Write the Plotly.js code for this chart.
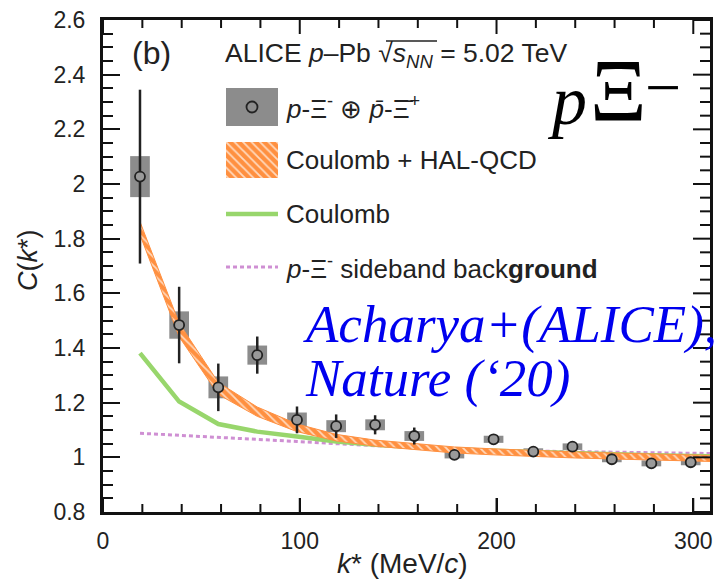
<!DOCTYPE html>
<html>
<head>
<meta charset="utf-8">
<script src="https://cdn.plot.ly/plotly-3.0.1.min.js"></script>
<style>html,body{margin:0;padding:0;background:#fff;}#plot{width:714px;height:580px;}</style>
</head>
<body>
<div id="plot"></div>
<script>
// ---- data ----
const kData   = [18.8, 38.7, 58.6, 78.4, 98.6, 118.5, 138.3, 158.2, 178.6, 198.5, 218.7, 238.6, 258.6, 278.7, 298.7];
const cData   = [2.027, 1.484, 1.256, 1.374, 1.137, 1.114, 1.119, 1.078, 1.009, 1.066, 1.021, 1.039, 0.993, 0.978, 0.982];
const statErr = [0.318, 0.140, 0.087, 0.068, 0.049, 0.043, 0.035, 0.031, 0.016, 0.015, 0.014, 0.015, 0.014, 0.013, 0.013];
const sysErr  = [0.075, 0.050, 0.040, 0.035, 0.027, 0.022, 0.020, 0.018, 0.013, 0.013, 0.012, 0.012, 0.011, 0.011, 0.011];

const kModel      = [18.8, 38.7, 58.6, 78.4, 98.6, 118.5, 138.3, 158.2, 178.6, 198.5, 218.7, 238.6, 258.6, 278.7, 298.7, 308.5];
const coulHal     = [1.838, 1.466, 1.252, 1.167, 1.108, 1.072, 1.052, 1.040, 1.027, 1.020, 1.014, 1.009, 1.005, 1.001, 0.998, 0.996];
const coulHalHalf = [0.024, 0.025, 0.022, 0.017, 0.014, 0.012, 0.011, 0.011, 0.011, 0.011, 0.011, 0.011, 0.011, 0.011, 0.011, 0.011];
const coulomb     = [1.381, 1.204, 1.122, 1.094, 1.076, 1.058, 1.046, 1.036, 1.029, 1.024, 1.019, 1.015, 1.011, 1.008, 1.005, 1.004];
const sideband    = [1.088, 1.081, 1.073, 1.066, 1.058, 1.050, 1.043, 1.035, 1.028, 1.025, 1.023, 1.021, 1.019, 1.017, 1.015, 1.014];

const xTickVals = [0, 100, 200, 300];
const xTickText = ['0', '100', '200', '300'];
const yTickVals = [0.8, 1, 1.2, 1.4, 1.6, 1.8, 2, 2.2, 2.4, 2.6];
const yTickText = ['0.8', '1', '1.2', '1.4', '1.6', '1.8', '2', '2.2', '2.4', '2.6'];

const legendLabels = [
  '<i>p</i>-Ξ<sup>-</sup> ⊕ <i>p̄</i>-Ξ̄<sup>+</sup>',
  'Coulomb + HAL-QCD',
  'Coulomb',
  '<i>p</i>-Ξ<sup>-</sup> sideband back<b>ground</b>'
];

// ---- layout geometry (pixels) ----
const L = 103, R = 710, T = 20, B = 512;
const W = 714, H = 580;
const PW = R - L, PH = B - T;
const px = x => (x - L) / PW;
const py = y => (B - y) / PH;
const X_RANGE = [0, 308.5];
const Y_RANGE = [0.8, 2.6];
const X_MINOR = 20, Y_MINOR = 0.05;
const X_TICKLEN = 14, X_MINORLEN = 8, Y_TICKLEN = 17, Y_MINORLEN = 10;

const ORANGE = '#ff9040';
const GREEN = '#98d66c';
const PINK = '#cf8fd3';
const GRAY = '#8c8c8c';
const INK = '#111';
const SANS = 'Liberation Sans, Arial, sans-serif';
const SERIF = 'Liberation Serif, Times New Roman, serif';

const upper = coulHal.map((v, i) => v + coulHalHalf[i]);
const lower = coulHal.map((v, i) => v - coulHalHalf[i]);
const sysBase = cData.map((v, i) => v - sysErr[i]);
const sysLen = sysErr.map(s => 2 * s);

const hatch = {shape: '\\', bgcolor: ORANGE, fgcolor: '#ffd9bd', size: 6, solidity: 0.3, fillmode: 'replace'};

const traces = [
  {type: 'bar', x: kData, y: sysLen, base: sysBase, width: 10,
   marker: {color: GRAY, line: {width: 0}}, hoverinfo: 'skip', showlegend: false},
  {type: 'scatter', mode: 'lines', x: kModel, y: sideband,
   line: {color: PINK, width: 3, dash: '4px,3px'}, showlegend: false},
  {type: 'scatter', mode: 'lines', x: kModel, y: coulomb,
   line: {color: GREEN, width: 4.5}, showlegend: false},
  {type: 'scatter', mode: 'lines', x: kModel, y: lower,
   line: {color: ORANGE, width: 1}, showlegend: false},
  {type: 'scatter', mode: 'lines', x: kModel, y: upper, fill: 'tonexty',
   fillcolor: ORANGE, fillpattern: hatch,
   line: {color: ORANGE, width: 1}, showlegend: false},
  {type: 'scatter', mode: 'markers', x: kData, y: cData,
   error_y: {type: 'data', array: statErr, visible: true, thickness: 2.5, width: 0, color: '#222'},
   marker: {symbol: 'circle', size: 10, color: '#9a9a9a', line: {color: '#222', width: 1.8}},
   showlegend: false},
  // orange hatched legend swatch, drawn in its own small subplot
  {type: 'scatter', mode: 'lines', xaxis: 'x2', yaxis: 'y2',
   x: [0, 1, 1, 0, 0], y: [0, 0, 1, 1, 0], fill: 'toself',
   fillcolor: ORANGE, fillpattern: hatch, line: {width: 0, color: ORANGE}, showlegend: false, hoverinfo: 'skip'}
];

const tickFont = {family: SANS, size: 23, color: '#222'};

// ---- frame tick marks (bottom, top, right), placed through the axis scales ----
const tickShapes = [];
const eps = 1e-9;
for (let v = X_RANGE[0]; v <= X_RANGE[1] + eps; v += X_MINOR) {
  const vv = Math.round(v * 1000) / 1000;
  const len = (xTickVals.some(t => Math.abs(t - vv) < 1e-6) ? X_TICKLEN : X_MINORLEN) / PH;
  tickShapes.push({type: 'line', xref: 'x', yref: 'paper', layer: 'above',
    x0: vv, x1: vv, y0: 0, y1: len, line: {color: INK, width: 2}});
  tickShapes.push({type: 'line', xref: 'x', yref: 'paper', layer: 'above',
    x0: vv, x1: vv, y0: 1, y1: 1 - len, line: {color: INK, width: 2}});
}
for (let v = Y_RANGE[0]; v <= Y_RANGE[1] + eps; v += Y_MINOR) {
  const vv = Math.round(v * 1000) / 1000;
  const len = (yTickVals.some(t => Math.abs(t - vv) < 1e-6) ? Y_TICKLEN : Y_MINORLEN) / PW;
  tickShapes.push({type: 'line', xref: 'paper', yref: 'y', layer: 'above',
    x0: 1, x1: 1 - len, y0: vv, y1: vv, line: {color: INK, width: 2}});
}

const shapes = tickShapes.concat([
  {type: 'rect', xref: 'paper', yref: 'paper', x0: px(226), x1: px(278), y0: py(126), y1: py(88),
   fillcolor: GRAY, line: {width: 0}},
  {type: 'circle', xref: 'paper', yref: 'paper', x0: px(246.5), x1: px(257.5), y0: py(112.5), y1: py(101.5),
   fillcolor: GRAY, line: {color: '#222', width: 1.8}},
  {type: 'line', xref: 'paper', yref: 'paper', x0: px(226), x1: px(278), y0: py(214), y1: py(214),
   line: {color: GREEN, width: 4.5}},
  {type: 'line', xref: 'paper', yref: 'paper', x0: px(226), x1: px(278), y0: py(267), y1: py(267),
   line: {color: PINK, width: 3, dash: '4px,3px'}},
  // overline of the square root
  {type: 'line', xref: 'paper', yref: 'paper', x0: px(386), x1: px(437), y0: py(41), y1: py(41),
   line: {color: '#222', width: 1.5}}
]);

const ann = (x, y, text, size, opts) => Object.assign({
  xref: 'paper', yref: 'paper', x: px(x), y: py(y), text: text, showarrow: false,
  xanchor: 'left', yanchor: 'middle', font: {family: SANS, size: size, color: '#222'}
}, opts || {});

const annotations = [
  ann(130, 53, '(b)', 32),
  ann(223, 55, 'ALICE <i>p</i>–Pb √<i>s</i><sub><i>NN</i></sub> = 5.02 TeV', 26.5),
  ann(284, 107, legendLabels[0], 26),
  ann(284, 160, legendLabels[1], 26),
  ann(284, 214, legendLabels[2], 26),
  ann(284, 267, legendLabels[3], 26),
  ann(545, 100, '<i>p</i>', 70, {font: {family: SERIF, size: 70, color: '#000'}}),
  ann(588, 91, 'Ξ', 88, {font: {family: SERIF, size: 88, color: '#000'}}),
  ann(643, 87, '−', 64, {font: {family: SERIF, size: 64, color: '#000'}}),
  ann(301, 324, '<i>Acharya+(ALICE),</i>', 53, {font: {family: SERIF, size: 53, color: '#0000ee'}}),
  ann(303, 378, '<i>Nature (‘20)</i>', 53, {font: {family: SERIF, size: 53, color: '#0000ee'}}),
  // axis titles
  ann(402, 563, '<i>k</i>* (MeV/<i>c</i>)', 28, {xanchor: 'center'}),
  ann(28, 260, '<i>C</i>(<i>k</i>*)', 27, {xanchor: 'center', textangle: -90})
];

const layout = {
  width: W, height: H,
  margin: {l: L, r: W - R, t: T, b: H - B, pad: 0},
  paper_bgcolor: '#fff', plot_bgcolor: 'rgba(0,0,0,0)',
  showlegend: false,
  xaxis: {
    domain: [0, 1], anchor: 'y',
    range: X_RANGE, tickvals: xTickVals, ticktext: xTickText,
    ticks: 'inside', ticklen: X_TICKLEN, tickwidth: 2, tickcolor: INK,
    showline: true, linewidth: 3, linecolor: INK, mirror: true,
    showgrid: false, zeroline: false, fixedrange: true,
    tickfont: tickFont, ticklabelstandoff: 6
  },
  yaxis: {
    domain: [0, 1], anchor: 'x',
    range: Y_RANGE, tickvals: yTickVals, ticktext: yTickText,
    ticks: 'inside', ticklen: Y_TICKLEN, tickwidth: 2, tickcolor: INK,
    minor: {dtick: Y_MINOR, tick0: 0.8, ticks: 'inside', ticklen: Y_MINORLEN, tickwidth: 2, tickcolor: INK, showgrid: false},
    showline: true, linewidth: 3, linecolor: INK, mirror: true,
    showgrid: false, zeroline: false, fixedrange: true,
    tickfont: tickFont, ticklabelstandoff: 10
  },
  xaxis2: {domain: [px(226), px(278)], anchor: 'y2', range: [0, 1], visible: false, fixedrange: true},
  yaxis2: {domain: [py(178), py(142)], anchor: 'x2', range: [0, 1], visible: false, fixedrange: true},
  shapes: shapes,
  annotations: annotations
};

Plotly.newPlot('plot', traces, layout, {displayModeBar: false, staticPlot: true});
</script>
</body>
</html>
